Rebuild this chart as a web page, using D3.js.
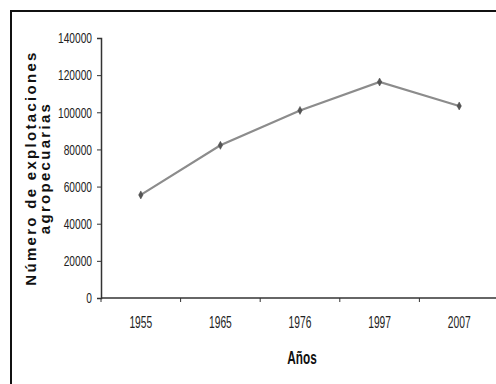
<!DOCTYPE html>
<html>
<head>
<meta charset="utf-8">
<script src="https://cdn.jsdelivr.net/npm/d3@7"></script>
<style>
  body { margin: 0; background: #fff; }
  svg { display: block; }
</style>
</head>
<body>
<svg id="chart"></svg>
<script>
// Chart data
const years = ["1955", "1965", "1976", "1997", "2007"];
const explotaciones = [55500, 82200, 101000, 116300, 103400];
const yTicks = [0, 20000, 40000, 60000, 80000, 100000, 120000, 140000];

const W = 496, H = 384;
const svg = d3.select("#chart").attr("width", W).attr("height", H);

// squeeze text horizontally to mimic a condensed face
function condense(sel, k) {
  sel.each(function () {
    const len = this.getComputedTextLength();
    d3.select(this).attr("textLength", len * k).attr("lengthAdjust", "spacingAndGlyphs");
  });
}

// outer frame (runs past the right and bottom edges)
svg.append("rect")
  .attr("x", 11).attr("y", 11)
  .attr("width", 520).attr("height", 420)
  .attr("fill", "none").attr("stroke", "#111").attr("stroke-width", 2);

const x = d3.scaleBand().domain(years).range([101, 499]).padding(0);
const y = d3.scaleLinear().domain([0, 140000]).range([298, 38]);

const font = "'Liberation Sans', Arial, sans-serif";

// y axis
const yAxis = svg.append("g")
  .attr("transform", "translate(101,0)")
  .call(d3.axisLeft(y).tickValues(yTicks).tickSize(4).tickPadding(5).tickFormat(d3.format("d")));
yAxis.select(".domain").attr("stroke", "#333").attr("stroke-width", 1.5);
yAxis.selectAll(".tick line").attr("stroke", "#333");
yAxis.selectAll("text")
  .style("font-family", font).style("font-size", "15px").attr("fill", "#222");
condense(yAxis.selectAll("text"), 0.68);

// x axis: labels at band centers, ticks at band boundaries
const xAxis = svg.append("g")
  .attr("transform", "translate(0,298)")
  .call(d3.axisBottom(x).tickSize(0).tickPadding(19));
xAxis.select(".domain").remove();
xAxis.selectAll("text")
  .style("font-family", font).style("font-size", "16px").attr("fill", "#222");
condense(xAxis.selectAll("text"), 0.64);

svg.append("line")
  .attr("x1", x.range()[0]).attr("x2", x.range()[1])
  .attr("y1", 298).attr("y2", 298)
  .attr("stroke", "#333").attr("stroke-width", 1.5);

svg.append("g").selectAll("line")
  .data(years)
  .enter()
  .append("line")
  .attr("x1", (d) => x(d)).attr("x2", (d) => x(d))
  .attr("y1", 298).attr("y2", 302)
  .attr("stroke", "#333");

// axis titles
const xTitle = svg.append("text")
  .attr("x", 302)
  .attr("y", 364)
  .attr("text-anchor", "middle")
  .style("font-family", font).style("font-size", "19px").style("font-weight", "bold")
  .attr("fill", "#111")
  .text("Años");
condense(xTitle, 0.62);

svg.append("text")
  .attr("transform", "translate(36,168) rotate(-90)")
  .attr("text-anchor", "middle")
  .style("font-family", font)
  .style("font-size", "15px").style("font-weight", "bold")
  .style("letter-spacing", "2.3px")
  .attr("fill", "#111")
  .text("Número de explotaciones");

svg.append("text")
  .attr("transform", "translate(50,168) rotate(-90)")
  .attr("text-anchor", "middle")
  .style("font-family", font)
  .style("font-size", "15px").style("font-weight", "bold")
  .style("letter-spacing", "2.3px")
  .attr("fill", "#111")
  .text("agropecuarias");

// series line
const points = years.map((yr, i) => ({ year: yr, value: explotaciones[i] }));
const line = d3.line()
  .x((d) => x(d.year) + x.bandwidth() / 2)
  .y((d) => y(d.value));

svg.append("path")
  .datum(points)
  .attr("d", line)
  .attr("fill", "none")
  .attr("stroke", "#8c8c8c")
  .attr("stroke-width", 2.2);

// diamond markers
svg.append("g").selectAll("path")
  .data(points)
  .enter()
  .append("path")
  .attr("transform", (d) => `translate(${x(d.year) + x.bandwidth() / 2},${y(d.value)})`)
  .attr("d", "M0,-4L2.2,0L0,4L-2.2,0Z")
  .attr("fill", "#555")
  .attr("stroke", "#444")
  .attr("stroke-width", 0.5);
</script>
</body>
</html>
